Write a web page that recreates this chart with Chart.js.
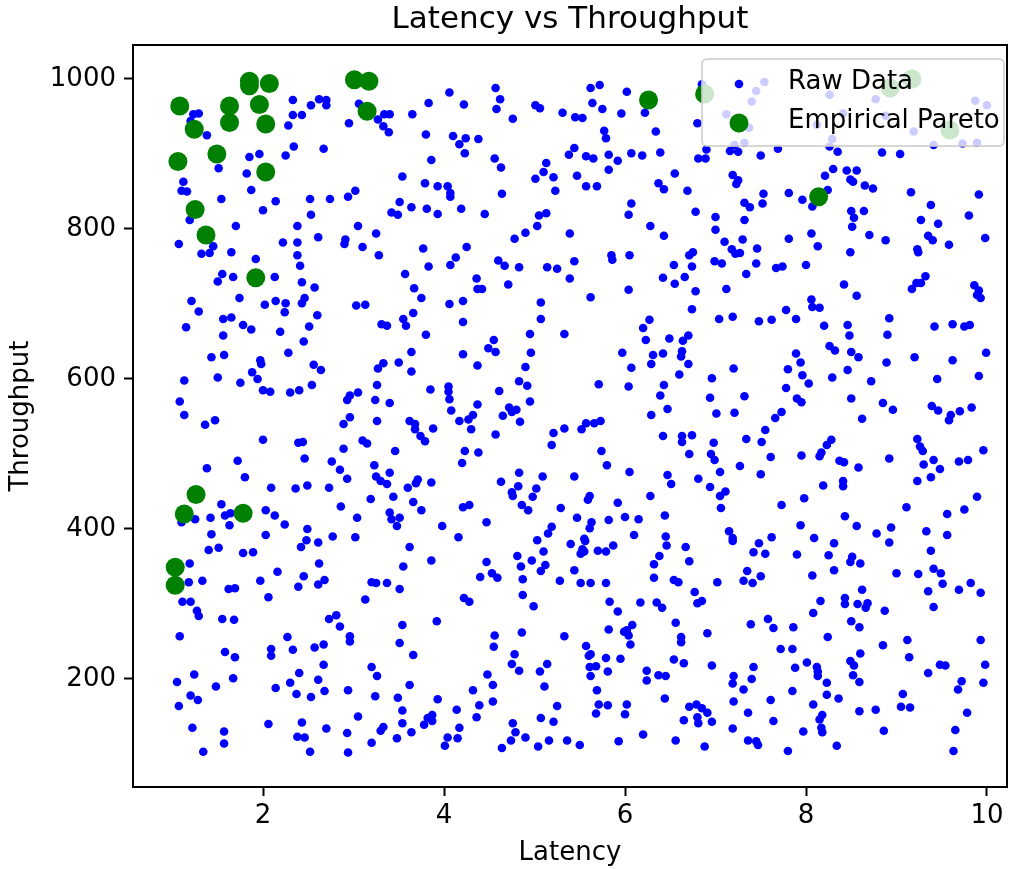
<!DOCTYPE html>
<html>
<head>
<meta charset="utf-8">
<title>Latency vs Throughput</title>
<script src="https://cdn.jsdelivr.net/npm/chart.js@4.4.1/dist/chart.umd.min.js"></script>
<style>
  html, body { margin: 0; padding: 0; background: #fff; }
  #wrap { width: 1018px; height: 869px; }
</style>
</head>
<body>
<div id="wrap"><canvas id="chart" width="1018" height="869"></canvas></div>
<script>
// raw samples (latency, throughput)
const rawLatency = [
  1.23,1.29,1.20,1.38,2.33,2.53,2.62,2.70,2.70,2.33,2.43,2.28,2.95,2.34,2.67,2.25,1.85,1.96,1.51,1.82,1.12,1.10,1.16,1.87,1.54,2.14,2.52,2.74,2.94,2.00,2.53,1.19,1.70,2.38,2.61,2.91,2.90,1.07,1.45,1.32,1.41,1.65,2.22,2.38,2.38,2.41,1.92,1.55,1.50,1.67,2.13,2.43,2.57,
  3.06,3.27,3.34,3.40,3.33,3.39,3.65,3.83,4.06,4.22,4.57,4.62,4.58,4.76,5.01,5.06,5.31,3.80,4.10,4.24,4.17,4.23,4.38,3.86,4.56,4.63,3.54,3.79,3.93,4.04,4.07,4.07,4.64,5.13,5.10,5.01,5.21,5.23,5.38,3.02,3.51,3.64,3.81,3.42,3.49,3.93,4.19,4.45,5.05,5.13,5.03,3.05,3.25,3.10,3.28,3.77,4.25,4.78,4.90,5.39,4.13,4.07,3.83,4.60,4.67,4.83,5.14,5.25,5.39,3.57,4.36,3.67,4.37,4.42,4.71,
  5.62,5.72,6.02,5.64,5.75,5.96,6.22,5.45,5.53,5.77,5.79,6.34,5.44,5.57,5.65,5.82,5.92,6.07,6.19,6.39,5.82,5.47,5.57,5.69,6.55,6.37,6.43,6.69,6.07,6.04,6.78,6.28,6.43,5.85,5.86,6.05,5.44,6.54,6.42,6.55,6.66,6.71,6.75,6.74,6.04,6.78,7.12,6.99,7.07,7.34,7.45,7.67,7.74,7.10,7.18,7.22,7.27,7.30,7.46,7.81,7.00,7.00,7.32,7.32,7.38,7.53,7.52,7.81,7.19,7.25,7.23,6.80,6.90,6.81,6.89,7.16,7.25,7.50,7.69,6.85,7.54,7.45,7.40,7.12,7.37,7.21,7.32,
  8.26,8.77,8.41,8.88,8.12,9.19,9.41,9.73,9.89,9.87,10.00,8.29,
  8.26,8.35,8.84,9.04,8.30,8.21,8.45,8.56,8.49,8.52,8.65,8.74,8.24,7.96,8.07,9.16,9.91,9.38,8.50,8.64,8.53,9.80,9.27,9.46,8.51,8.06,8.70,8.88,9.35,9.40,9.58,9.98,8.13,8.49,9.23,9.24,8.00,8.42,9.22,9.27,9.32,9.17,9.86,9.91,
  1.21,1.29,1.15,1.74,1.56,1.65,1.78,1.87,1.56,2.02,2.14,2.25,2.24,2.43,2.46,2.60,2.19,2.51,2.45,2.28,1.43,1.57,1.97,1.98,2.56,2.64,1.88,1.94,1.13,1.50,1.75,2.00,2.08,2.30,2.40,2.54,1.08,1.13,1.36,1.47,2.00,2.39,2.44,2.46,1.38,1.72,1.80,2.09,2.36,2.49,2.73,2.76,2.85,2.93,2.89,2.89,2.96,2.93,2.96,1.54,1.58,1.64,1.63,1.42,1.25,1.10,1.43,2.03,2.13,2.24,2.49,2.03,2.77,2.86,
  3.03,3.13,3.75,3.66,3.55,3.58,3.31,3.37,3.80,4.06,4.21,4.21,5.07,5.07,5.33,4.95,4.55,4.49,4.57,4.96,4.21,3.64,3.50,3.33,3.27,3.64,4.37,4.90,4.83,4.92,4.95,4.61,3.85,4.05,4.05,4.06,3.26,3.05,3.24,3.40,3.26,4.08,4.37,4.32,4.27,4.17,4.30,4.72,4.80,4.75,4.65,4.84,4.57,3.62,3.68,3.68,3.88,3.74,3.79,3.10,3.15,3.46,4.23,4.38,4.20,5.21,5.33,5.19,3.23,3.40,3.25,3.30,3.37,3.71,3.69,3.60,3.86,3.19,3.44,3.66,3.75,3.40,3.42,3.51,3.48,3.04,3.98,4.21,4.28,4.47,4.83,5.09,4.63,4.82,4.75,4.76,5.02,4.98,4.86,4.93,5.29,5.19,5.15,4.16,3.02,
  5.62,6.74,7.04,7.19,7.48,7.62,7.78,6.27,6.20,6.23,6.49,6.70,6.64,5.97,6.31,6.42,6.63,6.62,6.29,6.70,6.07,6.60,7.20,7.80,5.71,6.04,6.43,6.39,6.96,6.94,7.32,7.78,6.29,6.47,7.01,7.21,7.73,7.66,5.57,5.66,5.73,5.52,7.55,6.42,6.63,6.63,6.74,6.98,7.34,7.51,5.74,6.71,6.95,6.99,7.61,7.27,5.80,6.05,5.44,7.05,7.50,6.47,6.51,6.81,6.94,7.11,7.05,7.06,7.73,5.61,5.59,5.92,6.28,5.47,5.63,5.61,5.82,6.00,6.15,6.44,6.10,6.45,7.15,7.19,7.62,5.55,
  8.06,8.07,8.15,7.89,8.56,8.20,8.46,8.48,8.92,8.90,9.42,9.62,9.75,9.81,9.89,9.93,8.26,8.32,8.50,8.58,7.89,7.94,7.96,8.03,8.29,8.46,8.89,9.20,9.62,9.99,8.72,9.45,9.91,7.90,7.95,8.50,8.85,8.96,8.62,9.39,9.46,9.60,9.58,9.70,9.83,8.28,8.23,8.17,8.15,7.95,8.37,8.42,8.58,8.92,9.23,9.26,9.29,9.41,9.30,9.48,9.38,9.23,9.69,9.79,9.96,8.41,8.41,8.19,7.98,9.11,9.56,9.75,9.89,8.43,8.56,7.94,8.78,8.94,9.33,9.56,8.09,
  1.40,1.51,1.78,1.89,1.19,1.18,1.33,1.11,1.20,1.27,1.29,1.62,1.69,1.55,1.68,1.08,2.16,1.97,2.06,2.45,2.39,2.62,2.61,2.68,2.42,2.48,2.61,2.73,2.81,2.85,2.96,2.96,2.27,2.09,2.09,2.33,2.57,2.67,2.67,1.58,1.69,2.40,2.30,2.61,2.37,2.53,2.68,2.94,2.14,1.05,1.24,1.48,1.67,1.20,1.28,1.07,1.22,1.57,1.57,1.34,2.06,2.43,2.38,2.46,2.70,2.93,2.52,2.94,
  3.62,3.55,3.86,3.20,3.25,3.37,3.51,3.13,4.47,4.53,4.59,4.40,4.81,4.85,4.97,5.10,5.12,5.07,4.87,4.87,4.99,5.28,5.03,5.40,4.22,4.28,3.92,3.54,3.51,3.66,4.56,4.55,4.86,5.33,4.78,4.75,4.83,5.14,5.06,5.11,3.20,3.26,3.24,3.62,3.49,3.54,3.05,3.33,3.30,3.54,3.64,3.48,3.20,3.93,3.78,3.82,3.87,3.87,4.14,4.17,4.15,4.04,4.01,4.32,4.48,4.54,4.54,4.39,4.36,4.76,4.79,4.74,4.64,4.90,5.07,5.21,5.25,5.16,5.04,5.36,
  5.56,5.53,5.55,5.51,5.70,5.79,5.87,5.44,5.51,5.62,5.79,6.46,6.38,6.32,6.32,6.67,6.71,6.54,6.59,7.02,7.19,7.48,7.42,7.55,7.35,7.31,7.41,7.50,6.77,6.80,6.85,5.83,6.17,6.35,6.41,5.92,6.56,6.08,6.02,5.99,6.04,6.06,5.82,6.91,6.62,6.62,7.39,7.58,7.64,7.72,5.57,5.60,5.62,5.79,5.95,5.61,5.68,5.62,5.81,5.69,5.71,5.81,5.68,6.02,6.00,6.54,6.65,6.24,6.24,6.37,6.45,6.96,7.42,7.20,7.19,7.40,7.31,6.44,7.20,7.36,7.61,7.64,6.71,6.79,6.85,6.91,6.80,6.81,6.65,6.96,7.19,5.50,5.93,6.20,6.56,6.88,7.36,7.45,7.47,7.80,
  8.31,8.92,7.90,8.25,8.51,8.49,8.60,8.31,8.07,9.00,9.24,9.38,9.41,9.49,9.51,9.35,9.69,9.82,9.93,9.41,8.62,8.43,8.43,8.57,8.68,8.66,8.16,8.08,8.87,8.50,8.59,7.86,8.24,7.85,8.85,9.12,9.14,9.93,8.60,8.01,7.88,8.12,8.13,8.13,8.49,8.53,8.52,8.59,8.23,8.23,8.36,7.85,8.08,9.35,9.48,9.54,9.98,9.72,9.68,9.96,9.07,9.05,9.15,9.78,8.59,8.77,8.18,8.15,8.17,8.18,7.97,8.86,9.65,8.34,9.63
];
const rawThroughput = [
  953,954,944,925,972,965,973,972,965,952,952,938,941,910,907,898,896,900,881,874,863,851,850,852,840,837,840,840,843,825,819,812,804,804,789,786,780,780,777,767,768,769,782,782,765,751,760,740,730,736,736,729,722,
  967,946,953,953,937,929,953,968,982,966,988,973,960,947,965,961,955,926,924,921,913,901,920,892,894,882,870,861,857,857,848,843,847,888,876,867,869,851,899,851,836,829,827,822,819,820,827,820,818,821,804,804,794,776,765,774,776,787,795,794,762,752,750,758,751,749,749,747,734,740,734,721,720,720,726,
  988,992,983,968,960,954,955,949,948,931,921,930,908,897,894,899,891,901,898,902,879,871,857,857,874,861,853,851,834,819,823,804,791,765,759,765,757,752,735,727,736,765,769,750,719,717,720,757,754,740,754,748,750,783,773,767,768,786,774,787,816,799,812,835,829,847,834,848,872,865,860,941,906,894,894,904,903,898,907,993,996,984,970,953,935,912,915,
  979,973,954,951,939,930,912,914,915,971,965,920,
  910,903,902,900,880,871,878,878,866,863,858,854,852,839,830,849,846,832,824,824,815,818,812,807,803,794,792,785,791,785,779,788,777,769,773,769,752,726,728,728,737,720,725,718,
  704,690,669,708,680,682,672,666,658,699,704,701,689,701,708,685,663,670,650,635,629,632,625,620,619,612,609,600,598,602,595,585,583,582,585,592,570,552,539,545,519,515,516,494,481,491,469,455,454,458,455,490,479,467,507,540,549,572,578,433,418,421,405,415,413,409,393,425,418,406,400,392,390,430,
  698,699,708,688,680,671,673,671,659,700,704,676,702,680,660,660,652,641,636,635,633,636,622,621,614,610,618,616,597,591,570,584,586,590,583,573,592,582,572,568,544,558,566,552,546,544,533,562,559,556,551,543,526,544,540,533,534,524,517,518,514,504,504,502,488,528,534,512,485,475,470,464,460,466,461,455,462,440,443,436,425,422,413,415,404,415,404,429,432,409,475,470,463,457,449,444,454,443,432,425,428,403,394,389,389,
  709,693,680,683,677,679,692,679,668,652,654,658,651,635,632,634,637,630,620,620,615,606,614,613,593,590,592,578,601,575,577,588,552,560,554,555,556,548,541,541,544,533,532,524,524,516,525,515,520,516,504,500,500,492,496,484,485,476,470,476,473,472,460,467,456,450,444,428,432,444,439,435,444,415,409,401,412,416,413,418,392,390,397,388,389,387,
  706,696,695,680,711,671,672,658,681,659,670,673,670,672,712,708,644,638,636,629,634,622,605,594,602,612,622,629,625,635,597,600,604,574,569,574,568,559,547,564,558,552,545,557,562,519,512,502,497,498,491,489,482,494,520,510,504,492,486,480,469,464,490,492,505,464,457,458,441,429,420,426,443,417,404,405,394,402,397,392,388,
  372,375,368,369,354,329,331,303,303,291,284,320,321,280,279,257,343,331,309,337,323,354,326,332,376,385,382,280,285,270,257,250,256,240,231,239,242,246,219,236,229,208,195,199,180,176,184,185,188,196,206,190,201,178,172,164,135,130,114,103,140,142,123,122,134,128,103,102,
  376,350,358,329,328,328,320,306,356,341,335,336,364,350,358,370,352,344,333,312,297,331,385,380,308,303,277,272,248,232,258,243,262,257,233,220,211,220,210,190,216,204,177,192,175,158,150,136,131,141,129,121,115,173,139,148,152,144,159,135,121,122,111,185,206,192,170,165,149,141,129,118,108,122,148,143,164,118,110,118,
  384,373,370,367,371,370,378,345,328,328,328,378,364,353,335,376,357,332,329,329,384,381,369,367,344,331,328,337,316,301,304,303,302,302,295,290,275,272,265,263,258,246,266,261,256,249,273,280,268,240,244,231,233,228,227,216,217,204,210,185,166,165,154,166,153,226,221,211,198,205,204,218,216,204,194,200,186,174,170,155,172,144,163,166,161,155,149,141,145,143,134,112,117,126,118,110,118,117,112,104,
  381,382,366,365,363,356,354,345,338,341,340,371,347,341,327,317,319,328,315,296,319,308,300,300,301,295,304,288,291,277,269,269,256,240,245,252,229,252,234,222,215,216,210,204,224,218,205,196,195,179,174,184,166,208,219,218,219,197,186,195,180,163,162,155,157,159,152,146,135,129,130,131,132,111,104
];

// empirical pareto points
const paretoLatency = [1.08,1.24,1.63,1.63,1.85,1.85,2.07,1.96,2.03,1.49,1.06,2.03,1.25,1.37,1.92,3.01,3.17,3.15,6.26,6.88,8.93,9.17,9.59,8.14,1.26,1.13,1.78,1.03,1.03];
const paretoThroughput = [964,933,964,942,997,991,994,966,940,900,890,876,826,792,735,999,997,957,972,980,988,1000,932,843,446,420,421,349,325];

const xTicks = [2, 4, 6, 8, 10];
const yTicks = [200, 400, 600, 800, 1000];

const seriesLabels = ['Raw Data', 'Empirical Pareto'];
const seriesColors = ['blue', 'green'];

Chart.defaults.font.family = '"DejaVu Sans", sans-serif';
Chart.defaults.color = '#000';

function toPoints(xs, ys) {
  return xs.map((x, i) => ({ x: x, y: ys[i] }));
}

// top + right spines, like a matplotlib box
const framePlugin = {
  id: 'frame',
  afterDatasetsDraw(chart) {
    const { ctx, chartArea: a } = chart;
    ctx.save();
    ctx.strokeStyle = '#000';
    ctx.lineWidth = 2;
    ctx.strokeRect(a.left, a.top, a.right - a.left, a.bottom - a.top);
    ctx.restore();
  }
};

// legend box inside the plot, upper right
const legendPlugin = {
  id: 'boxLegend',
  afterDraw(chart) {
    const { ctx, chartArea: a } = chart;
    const w = 302, h = 87;
    const left = a.right - 305, top = a.top + 14;
    ctx.save();
    ctx.beginPath();
    ctx.roundRect(left, top, w, h, 5);
    ctx.fillStyle = 'rgba(255,255,255,0.8)';
    ctx.fill();
    ctx.strokeStyle = 'rgba(204,204,204,0.8)';
    ctx.lineWidth = 2;
    ctx.stroke();

    const radii = [4.3, 9.5];
    const rows = [top + 25, top + 64];
    ctx.font = '26px "DejaVu Sans"';
    ctx.textBaseline = 'middle';
    ctx.textAlign = 'left';
    seriesLabels.forEach((label, i) => {
      ctx.beginPath();
      ctx.arc(left + 37, rows[i], radii[i], 0, Math.PI * 2);
      ctx.fillStyle = seriesColors[i];
      ctx.fill();
      ctx.fillStyle = '#000';
      ctx.fillText(label, left + 86, rows[i] - 2);
    });
    ctx.restore();
  }
};

const ctx = document.getElementById('chart').getContext('2d');
const chart = new Chart(ctx, {
  type: 'scatter',
  data: {
    datasets: [
      {
        label: seriesLabels[0],
        data: toPoints(rawLatency, rawThroughput),
        pointRadius: 4.3,
        pointHoverRadius: 4.3,
        pointBackgroundColor: seriesColors[0],
        pointBorderWidth: 0,
        order: 1
      },
      {
        label: seriesLabels[1],
        data: toPoints(paretoLatency, paretoThroughput),
        pointRadius: 9.5,
        pointHoverRadius: 9.5,
        pointBackgroundColor: seriesColors[1],
        pointBorderWidth: 0,
        order: 0
      }
    ]
  },
  options: {
    responsive: false,
    animation: false,
    layout: { padding: { left: 0, right: 11, top: 0, bottom: 0 } },
    plugins: {
      legend: { display: false },
      tooltip: { enabled: false },
      title: {
        display: true,
        text: 'Latency vs Throughput',
        fullSize: false,
        font: { size: 31, weight: 'normal' },
        padding: { top: 1, bottom: 6.8 }
      }
    },
    scales: {
      x: {
        type: 'linear',
        min: 0.5635,
        max: 10.221,
        afterFit: s => { s.height = 82; },
        afterBuildTicks: s => { s.ticks = xTicks.map(v => ({ value: v })); },
        ticks: { font: { size: 26 }, padding: 5, maxRotation: 0, callback: v => String(v) },
        grid: { drawOnChartArea: false, drawTicks: true, tickLength: 9, tickWidth: 2, tickColor: '#000' },
        border: { display: true, color: '#000', width: 2 },
        title: { display: true, text: 'Latency', font: { size: 26 }, padding: { top: 0, bottom: 0 } }
      },
      y: {
        type: 'linear',
        min: 56,
        max: 1045.3,
        afterFit: s => { s.width = 133; },
        afterBuildTicks: s => { s.ticks = yTicks.map(v => ({ value: v })); },
        ticks: { font: { size: 26 }, padding: 8, callback: v => String(v) },
        grid: { drawOnChartArea: false, drawTicks: true, tickLength: 9, tickWidth: 2, tickColor: '#000' },
        border: { display: true, color: '#000', width: 2 },
        title: { display: true, text: 'Throughput', font: { size: 26 }, padding: { top: 6, bottom: 0 } }
      }
    }
  },
  plugins: [framePlugin, legendPlugin]
});
</script>
</body>
</html>
